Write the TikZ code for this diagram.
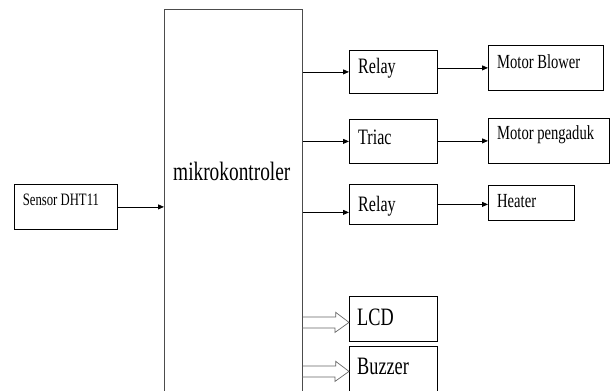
\documentclass[tikz,border=0pt]{standalone}
\usepackage{fontspec}
\setmainfont[FakeStretch=0.73]{Liberation Serif}
\usetikzlibrary{arrows.meta}

\tikzset{
  blok/.style={draw, line width=0.8pt, inner sep=0pt, anchor=north west},
  teks/.style={anchor=base west, inner sep=0pt},
  panah/.style={-{Triangle[length=6pt,width=5pt]}, line width=0.8pt},
  panahbesar/.style={draw=black!60, line width=0.7pt},
}

\begin{document}
\begin{tikzpicture}[x=1pt, y=-1pt]
  \clip (0,0) rectangle (611,391);
  % kotak
  \node[blok, minimum width=103pt, minimum height=45pt] (sensor) at (14,184) {};
  \node[blok, draw=black!70, minimum width=138pt, minimum height=420pt] (mikro) at (164,9) {};
  \node[blok, minimum width=88pt, minimum height=43pt] (relayA) at (349,50) {};
  \node[blok, minimum width=88pt, minimum height=44pt] (triac) at (349,119) {};
  \node[blok, minimum width=88pt, minimum height=40pt] (relayB) at (349,184) {};
  \node[blok, minimum width=115pt, minimum height=45pt] (blower) at (488,45) {};
  \node[blok, minimum width=121pt, minimum height=45pt] (pengaduk) at (488,118) {};
  \node[blok, minimum width=86pt, minimum height=35pt] (heater) at (488,185) {};
  \node[blok, minimum width=88pt, minimum height=45pt] (lcd) at (349,296) {};
  \node[blok, minimum width=88pt, minimum height=50pt] (buzzer) at (349,346) {};
  % tulisan
  \node[teks, font=\fontsize{17.4}{18}\selectfont] (sensortxt) at (22.7,205) {Sensor DHT11};
  \node[teks, font=\fontsize{26.5}{28}\selectfont] (mikrotxt) at (173,180) {mikrokontroler};
  \node[teks, font=\fontsize{22}{24}\selectfont] (relayAtxt) at (358,73.5) {Relay};
  \node[teks, font=\fontsize{22}{24}\selectfont] (triactxt) at (358,144) {Triac};
  \node[teks, font=\fontsize{22}{24}\selectfont] (relayBtxt) at (358,211.5) {Relay};
  \node[teks, font=\fontsize{20}{22}\selectfont] (blowertxt) at (497,68.5) {Motor Blower};
  \node[teks, font=\fontsize{20}{22}\selectfont] (pengaduktxt) at (497,139.5) {Motor pengaduk};
  \node[teks, font=\fontsize{20}{22}\selectfont] (heatertxt) at (497,207) {Heater};
  \node[teks, font=\fontsize{25}{27}\selectfont] (lcdtxt) at (357,325) {LCD};
  \node[teks, font=\fontsize{25}{27}\selectfont] (buzzertxt) at (357,374) {Buzzer};
  % panah
  \coordinate (inB) at ([yshift=-8pt]relayB.west);
  \draw[panah] (sensor.east) -- (mikro.west |- sensor.east);
  \draw[panah] (mikro.east |- relayA.west) -- (relayA.west);
  \draw[panah] (mikro.east |- triac.west) -- (triac.west);
  \draw[panah] (mikro.east |- inB) -- (inB);
  \draw[panah] (blower.west -| relayA.east) -- (blower.west);
  \draw[panah] (pengaduk.west -| triac.east) -- (pengaduk.west);
  \draw[panah] (relayB.east) -- (relayB.east -| heater.west);
  % panah kosong
  \coordinate (tipL) at ([yshift=-3.5pt]lcd.west);
  \draw[panahbesar] (mikro.east |- tipL) ++(0,-5.5) -- ++(33,0) -- ++(0,-4.5) -- (tipL)
    -- ++(-14,10) -- ++(0,-4.5) -- ++(-33,0);
  \draw[panahbesar] (mikro.east |- buzzer.west) ++(0,-5.5) -- ++(33,0) -- ++(0,-4.5) -- (buzzer.west)
    -- ++(-14,10) -- ++(0,-4.5) -- ++(-33,0);
\end{tikzpicture}
\end{document}
